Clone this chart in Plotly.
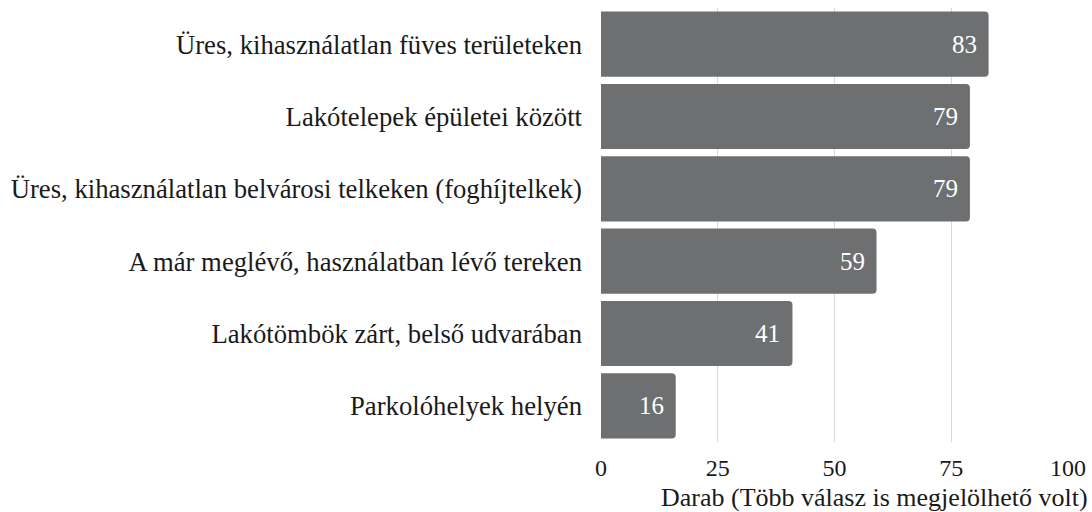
import plotly.graph_objects as go

categories = [
    "Üres, kihasználatlan füves területeken",
    "Lakótelepek épületei között",
    "Üres, kihasználatlan belvárosi telkeken (foghíjtelkek)",
    "A már meglévő, használatban lévő tereken",
    "Lakótömbök zárt, belső udvarában",
    "Parkolóhelyek helyén",
]
values = [83, 79, 79, 59, 41, 16]
tick_vals = [0, 25, 50, 75, 100]
x_title = "Darab (Több válasz is megjelölhető volt)"

FONT = "Liberation Serif, Times New Roman, serif"
BAR = "#6d6f70"
TXT = "#1a1a1a"

fig = go.Figure()
fig.add_trace(go.Bar(
    y=categories, x=values, orientation="h",
    marker=dict(color=BAR, line=dict(width=0)),
    hoverinfo="x+y",
))

for c, v in zip(categories, values):
    fig.add_annotation(x=v, y=c, text=str(v), showarrow=False,
                       xanchor="right", xshift=-10,
                       font=dict(family=FONT, size=25, color="white"))

fig.add_annotation(xref="paper", yref="paper", x=1.0, xshift=22, y=0, yshift=-55,
                   xanchor="right", yanchor="middle", text=x_title, showarrow=False,
                   font=dict(family=FONT, size=26, color=TXT))

fig.update_layout(
    width=1092, height=512,
    margin=dict(l=601, r=24, t=8, b=70),
    plot_bgcolor="white", paper_bgcolor="white",
    bargap=0.1, barcornerradius=4,
    showlegend=False,
    font=dict(family=FONT, size=25, color=TXT),
    xaxis=dict(range=[0, 100], tickvals=tick_vals, showgrid=True,
               gridcolor="#d9d9d9", gridwidth=1, zeroline=False,
               showline=False, ticks="", ticklabelstandoff=9,
               automargin=False, tickfont=dict(size=24)),
    yaxis=dict(categoryorder="array", categoryarray=categories[::-1],
               showgrid=False, ticks="", ticklabelstandoff=18,
               automargin=False, tickfont=dict(size=26.7)),
)

fig.write_html(
    "out.html",
    config={"displayModeBar": False},
    post_script="document.body.style.margin='0';document.body.style.overflow='hidden';",
)
